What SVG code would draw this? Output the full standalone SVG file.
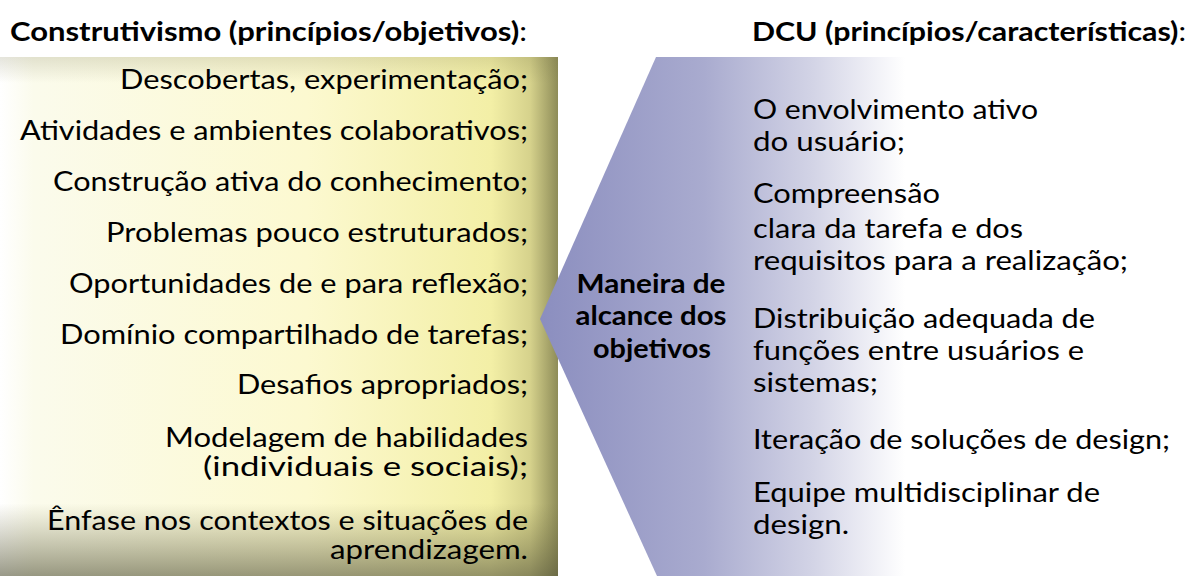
<svg xmlns="http://www.w3.org/2000/svg" width="1193" height="576" viewBox="0 0 1193 576">
<style>
text{font-family:Lato,"Open Sans","Liberation Sans",sans-serif;fill:#000}
.it{font-size:27px}
.l{text-anchor:end}
.h{font-size:27px;font-weight:bold}
.c{font-size:27px;font-weight:bold;text-anchor:middle}
</style>
<defs>
<linearGradient id="gY" x1="0" y1="0" x2="558" y2="0" gradientUnits="userSpaceOnUse">
<stop offset="0" stop-color="#ffffff"/>
<stop offset="0.06" stop-color="#fbfbec"/>
<stop offset="0.55" stop-color="#fcf9d0"/>
<stop offset="0.88" stop-color="#f3efa6"/>
<stop offset="0.95" stop-color="#d6d28c"/>
<stop offset="1" stop-color="#8e8c58"/>
</linearGradient>
<linearGradient id="gV" x1="0" y1="57" x2="0" y2="576" gradientUnits="userSpaceOnUse">
<stop offset="0" stop-color="#6e6c40" stop-opacity="0.18"/>
<stop offset="0.05" stop-color="#6e6c40" stop-opacity="0"/>
<stop offset="0.86" stop-color="#6e6c40" stop-opacity="0"/>
<stop offset="1" stop-color="#55553a" stop-opacity="0.6"/>
</linearGradient>
<linearGradient id="gB" x1="540" y1="0" x2="905" y2="0" gradientUnits="userSpaceOnUse">
<stop offset="0" stop-color="#8b8ebf"/>
<stop offset="0.45" stop-color="#a9abcf"/>
<stop offset="0.75" stop-color="#d3d4e6"/>
<stop offset="1" stop-color="#ffffff"/>
</linearGradient>
</defs>
<rect width="1193" height="576" fill="#ffffff"/>

<g id="headers">
<text class="h" x="10" y="41" textLength="517" lengthAdjust="spacingAndGlyphs">Construtivismo (princípios/objetivos)<tspan font-weight="normal">:</tspan></text>
<text class="h" x="752" y="41" textLength="434" lengthAdjust="spacingAndGlyphs">DCU (princípios/características)<tspan font-weight="normal">:</tspan></text>
</g>

<g id="construtivismo">
<rect x="0" y="57" width="558" height="519" fill="url(#gY)"/>
<rect x="0" y="57" width="558" height="519" fill="url(#gV)"/>
<text class="it l" x="528" y="89" textLength="408" lengthAdjust="spacingAndGlyphs">Descobertas, experimentação;</text>
<text class="it l" x="528" y="140" textLength="508" lengthAdjust="spacingAndGlyphs">Atividades e ambientes colaborativos;</text>
<text class="it l" x="528" y="191" textLength="475" lengthAdjust="spacingAndGlyphs">Construção ativa do conhecimento;</text>
<text class="it l" x="528" y="242" textLength="422" lengthAdjust="spacingAndGlyphs">Problemas pouco estruturados;</text>
<text class="it l" x="528" y="293" textLength="459" lengthAdjust="spacingAndGlyphs">Oportunidades de e para reflexão;</text>
<text class="it l" x="528" y="344" textLength="468" lengthAdjust="spacingAndGlyphs">Domínio compartilhado de tarefas;</text>
<text class="it l" x="528" y="394" textLength="291" lengthAdjust="spacingAndGlyphs">Desafios apropriados;</text>
<text class="it l" x="528" y="447" textLength="363" lengthAdjust="spacingAndGlyphs">Modelagem de habilidades</text>
<text class="it l" x="528" y="476" textLength="325" lengthAdjust="spacingAndGlyphs">(individuais e sociais);</text>
<text class="it l" x="528" y="530" textLength="481" lengthAdjust="spacingAndGlyphs">Ênfase nos contextos e situações de</text>
<text class="it l" x="528" y="559" textLength="198" lengthAdjust="spacingAndGlyphs">aprendizagem.</text>
</g>

<g id="dcu">
<polygon points="540,319 656,57 1193,57 1193,576 657,576" fill="url(#gB)"/>
<text class="it" x="753" y="119" textLength="285" lengthAdjust="spacingAndGlyphs">O envolvimento ativo</text>
<text class="it" x="753" y="151" textLength="152" lengthAdjust="spacingAndGlyphs">do usuário;</text>
<text class="it" x="753" y="203" textLength="187" lengthAdjust="spacingAndGlyphs">Compreensão</text>
<text class="it" x="753" y="238" textLength="270" lengthAdjust="spacingAndGlyphs">clara da tarefa e dos</text>
<text class="it" x="753" y="270" textLength="375" lengthAdjust="spacingAndGlyphs">requisitos para a realização;</text>
<text class="it" x="753" y="328" textLength="342" lengthAdjust="spacingAndGlyphs">Distribuição adequada de</text>
<text class="it" x="753" y="360" textLength="331" lengthAdjust="spacingAndGlyphs">funções entre usuários e</text>
<text class="it" x="753" y="392" textLength="125" lengthAdjust="spacingAndGlyphs">sistemas;</text>
<text class="it" x="753" y="449" textLength="417" lengthAdjust="spacingAndGlyphs">Iteração de soluções de design;</text>
<text class="it" x="753" y="502" textLength="347" lengthAdjust="spacingAndGlyphs">Equipe multidisciplinar de</text>
<text class="it" x="753" y="534" textLength="96" lengthAdjust="spacingAndGlyphs">design.</text>
</g>

<g id="centro">
<text class="c" x="651" y="293" textLength="149" lengthAdjust="spacingAndGlyphs">Maneira de</text>
<text class="c" x="651" y="325" textLength="151" lengthAdjust="spacingAndGlyphs">alcance dos</text>
<text class="c" x="652" y="358" textLength="118" lengthAdjust="spacingAndGlyphs">objetivos</text>
</g>
</svg>
